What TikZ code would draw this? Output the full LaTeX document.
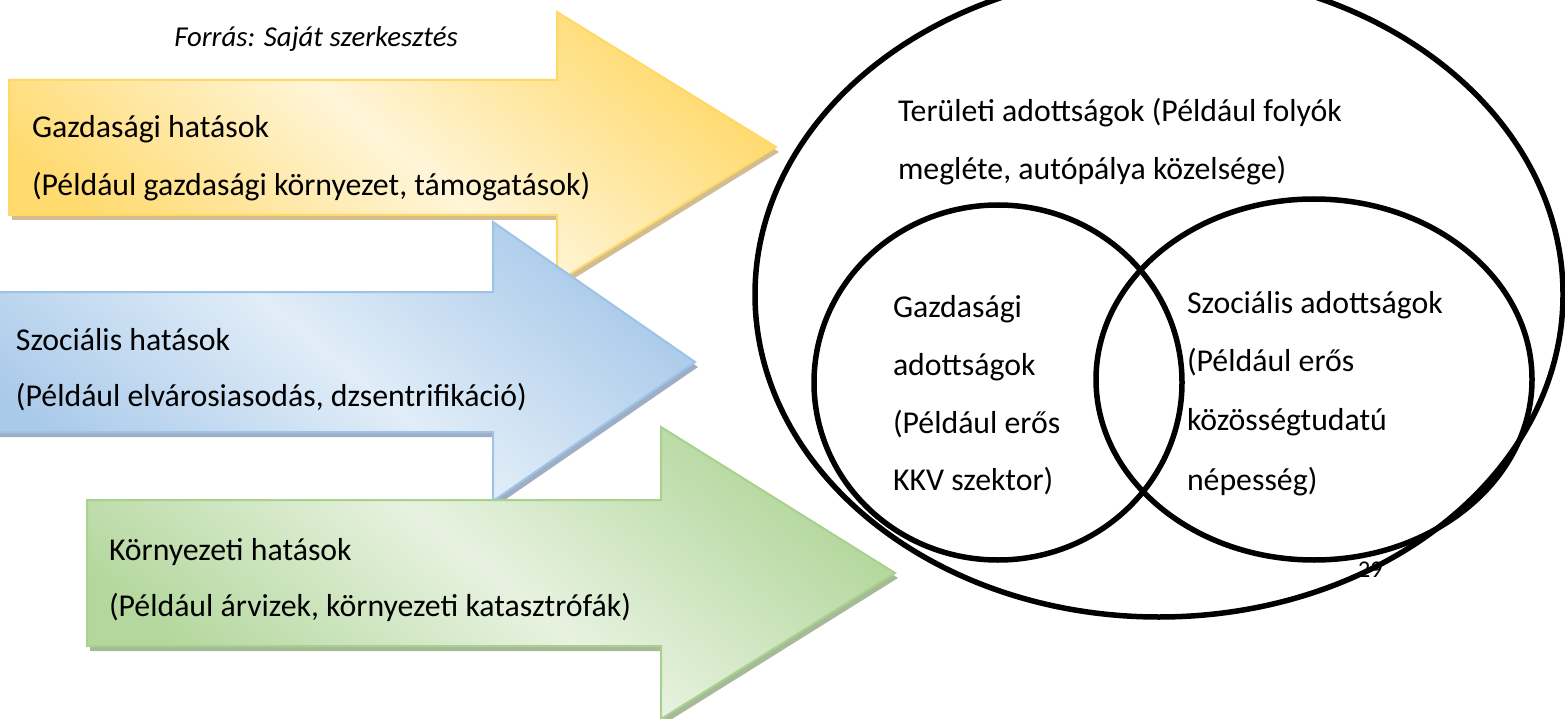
\documentclass[tikz,border=0pt]{standalone}
\usepackage{fontspec}
\setmainfont{Carlito}
\usetikzlibrary{shapes.geometric}
\definecolor{yD}{HTML}{FFDA6E}
\definecolor{yL}{HTML}{FFF5D8}
\definecolor{yE}{HTML}{FFD966}
\definecolor{yS}{HTML}{C9B27E}
\definecolor{bD}{HTML}{AACAEA}
\definecolor{bL}{HTML}{E1EDF8}
\definecolor{bE}{HTML}{9DC3E6}
\definecolor{bS}{HTML}{8EA2BB}
\definecolor{gD}{HTML}{B3D79C}
\definecolor{gL}{HTML}{E7F2E0}
\definecolor{gE}{HTML}{A9D18E}
\definecolor{gS}{HTML}{97AF88}
\tikzset{
  txt/.style={anchor=base west, inner sep=0pt, outer sep=0pt, font=\fontsize{31.8}{31.8}\selectfont},
  venn/.style={draw=black, line width=5.5pt, ellipse, inner sep=0pt},
  shadowpart/.style={fill=#1, opacity=0.85},
  arrowbody/.style 2 args={top color=#1, bottom color=#1, middle color=#2, shading angle=-40},
}
\def\yarrow{(9,80) -- (557,80) -- (557,12) -- (776,147) -- (557,282) -- (557,215) -- (9,215) -- cycle}
\def\barrow{(-20,292) -- (493,292) -- (493,222) -- (695,362) -- (493,501) -- (493,432) -- (-20,432) -- cycle}
\def\garrow{(87,500) -- (661,500) -- (661,427) -- (895,573) -- (661,719) -- (661,646) -- (87,646) -- cycle}
\begin{document}
\begin{tikzpicture}[x=1pt, y=-1pt]
\useasboundingbox (0,0) rectangle (1565,719);
\clip (0,0) rectangle (1565,719);
\fill[white] (0,0) rectangle (1565,719);
% yellow arrow
\begin{scope}[shift={(3,5)}]
  \fill[shadowpart=yS] \yarrow;
\end{scope}
\shade[arrowbody={yD}{yL}, draw=yE, line width=2pt] \yarrow;
\node[txt] (g1) at (32,138) {Gazdasági hatások};
\node[txt] (g2) at (32,196) {(Például gazdasági környezet, támogatások)};
% blue arrow
\begin{scope}[shift={(3,5)}]
  \fill[shadowpart=bS] \barrow;
\end{scope}
\shade[arrowbody={bD}{bL}, draw=bE, line width=2pt] \barrow;
\node[txt] (s1) at (16,350) {Szociális hatások};
\node[txt] (s2) at (16,406) {(Például elvárosiasodás, dzsentrifikáció)};
% green arrow
\begin{scope}[shift={(3,5)}]
  \fill[shadowpart=gS] \garrow;
\end{scope}
\shade[arrowbody={gD}{gL}, draw=gE, line width=2pt] \garrow;
\node[txt] (k1) at (109,560) {Környezeti hatások};
\node[txt] (k2) at (109,616) {(Például árvizek, környezeti katasztrófák)};
% source
\node[anchor=base, inner sep=0pt, font=\fontsize{28.8}{28.8}\selectfont\itshape] (forras) at (316,47) {Forrás: Saját szerkesztés};
% page number under the lines
\node[anchor=base west, inner sep=0pt, font=\fontsize{24}{24}\selectfont] (pg) at (1358,577) {29};
% venn
\node[venn, minimum width=808pt, minimum height=645pt] (outer) at (1159,294.5) {};
\node[venn, minimum width=368pt, minimum height=355pt] (left) at (998,382.5) {};
\node[venn, minimum width=436pt, minimum height=361pt] (right) at (1314,379.5) {};
% texts in venn
\node[txt] (t1) at (898,122) {Területi adottságok (Például folyók};
\node[txt] (t2) at (898,180) {megléte, autópálya közelsége)};
\node[txt] (a1) at (893,317) {Gazdasági};
\node[txt] (a2) at (893,375) {adottságok};
\node[txt] (a3) at (893,433) {(Például erős};
\node[txt] (a4) at (893,490) {KKV szektor)};
\node[txt] (b1) at (1187,313) {Szociális adottságok};
\node[txt] (b2) at (1187,371) {(Például erős};
\node[txt] (b3) at (1187,430) {közösségtudatú};
\node[txt] (b4) at (1187,490) {népesség)};
\end{tikzpicture}
\end{document}
